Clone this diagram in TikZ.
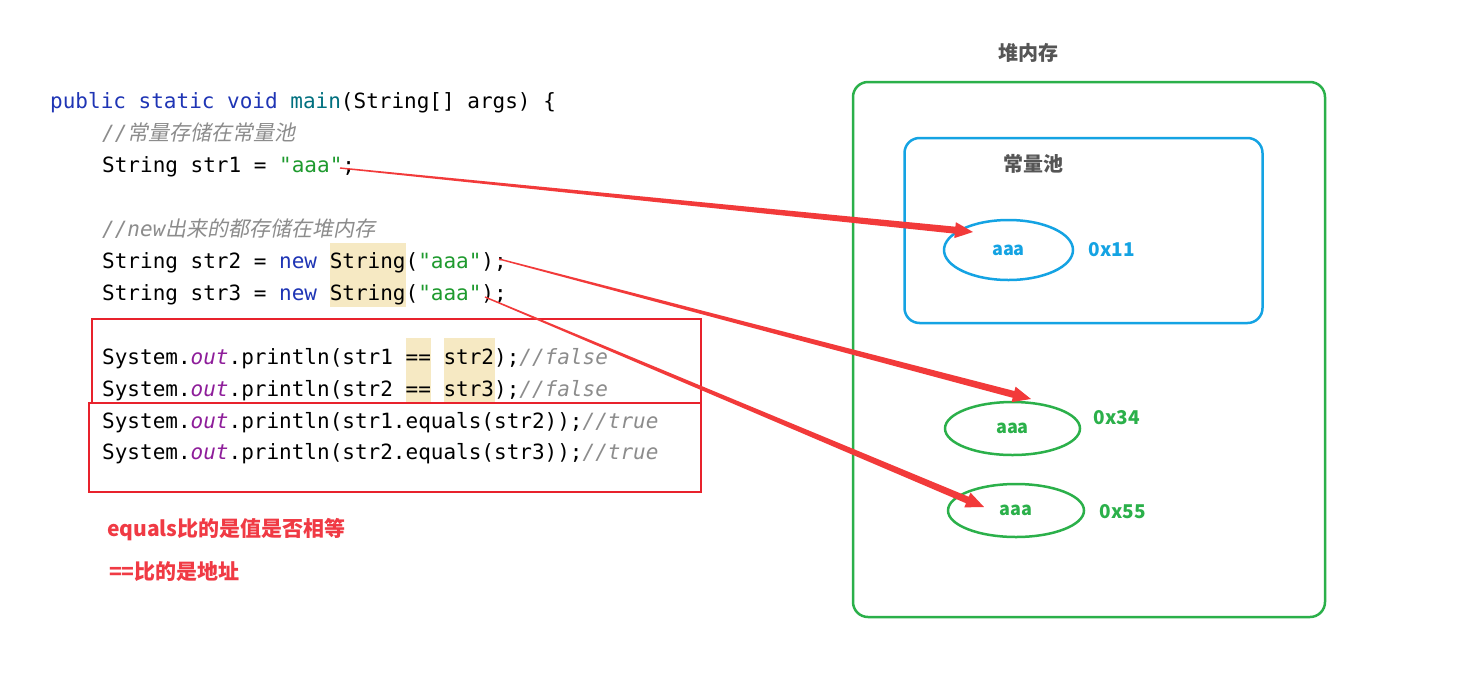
\documentclass[tikz,border=0pt]{standalone}
\usepackage{fontspec}
\setmonofont{DejaVu Sans Mono}
\newfontfamily\cjk{Noto Sans CJK SC}
\newfontfamily\cjkit[FakeSlant=0.2]{Noto Sans CJK SC}
\usepackage{tikz}
\usepackage{xcolor}
\usetikzlibrary{calc, shapes.geometric}
\definecolor{kwblue}{HTML}{1F35B5}
\definecolor{fnteal}{HTML}{00707F}
\definecolor{strgreen}{HTML}{1E9A2E}
\definecolor{fieldpurple}{HTML}{8E1D9A}
\definecolor{cmtgray}{HTML}{8C8C8C}
\definecolor{hilite}{HTML}{F6E9C3}
\definecolor{boxred}{HTML}{E8222C}
\definecolor{notered}{HTML}{F03A44}
\definecolor{arrowred}{HTML}{F23A3A}
\definecolor{heapgreen}{HTML}{2BB04A}
\definecolor{poolblue}{HTML}{14A3E3}
\definecolor{titlegray}{HTML}{555555}

% java colouring
\newcommand\kw[1]{\textcolor{kwblue}{#1}}
\newcommand\jstr[1]{\textcolor{strgreen}{#1}}
\newcommand\jfld[1]{{\color{fieldpurple}\itshape #1}}
\newcommand\jcmt[1]{{\color{cmtgray}\itshape #1}}
\newcommand\zh[1]{{\cjkit\upshape #1}}

% tapered red pointer from #1 to #2
\newcommand\taperto[2]{%
  \path let \p1=($(#2)-(#1)$) in
    \pgfextra{\pgfmathsetmacro\tlen{veclen(\x1,\y1)}\xdef\tlen{\tlen}%
              \pgfmathsetmacro\tang{atan2(\y1,\x1)}\xdef\tang{\tang}};
  \fill[arrowred, shift={(#1)}, rotate=\tang]
    (0pt,-0.7pt) -- (\tlen pt-18pt,-3.5pt) -- (\tlen pt-18pt,-8pt) -- (\tlen pt,0pt)
    -- (\tlen pt-18pt,8pt) -- (\tlen pt-18pt,3.5pt) -- (0pt,0.7pt) -- cycle;
}

\begin{document}
\begin{tikzpicture}[x=1pt, y=-1pt,
    code/.style={anchor=base west, inner sep=0pt, font=\ttfamily\fontsize{21}{32}\selectfont},
    note/.style={anchor=west, inner sep=0pt, text=notered, font=\cjk\bfseries\fontsize{21}{24}\selectfont},
    title/.style={inner sep=0pt, text=titlegray, font=\cjk\bfseries\fontsize{20}{24}\selectfont},
    addr/.style={inner sep=0pt, font=\cjk\bfseries\fontsize{19}{22}\selectfont},
    redframe/.style={draw=boxred, line width=2pt},
    roundbox/.style={rectangle, rounded corners=15pt, line width=2.5pt, inner sep=0pt},
    cell/.style={ellipse, line width=2.5pt, inner sep=0pt, font=\cjk\bfseries\fontsize{18}{20}\selectfont}]
  \useasboundingbox (0,0) rectangle (1467,694);
  \fill[white] (0,0) rectangle (1467,694);

  % highlights
  \fill[hilite] (330,243) rectangle (406,307);
  \fill[hilite] (405.6,338) rectangle (431,402);
  \fill[hilite] (443.5,338) rectangle (494.5,402);

  % code
  \node[code] (l1) at (50,108) {\kw{public static void} \textcolor{fnteal}{main}(String[] args) \{};
  \node[code] (l2) at (102,140) {\jcmt{//\zh{常量存储在常量池}}};
  \node[code] (l3) at (102,172) {String str1 = \jstr{"aaa"};};
  \node[code] (l4) at (102,236) {\jcmt{//new\zh{出来的都存储在堆内存}}};
  \node[code] (l5) at (102,268) {String str2 = \kw{new} String(\jstr{"aaa"});};
  \node[code] (l6) at (102,300) {String str3 = \kw{new} String(\jstr{"aaa"});};
  \node[code] (l7) at (102,364) {System.\jfld{out}.println(str1 == str2);\jcmt{//false}};
  \node[code] (l8) at (102,396) {System.\jfld{out}.println(str2 == str3);\jcmt{//false}};
  \node[code] (l9) at (102,428) {System.\jfld{out}.println(str1.equals(str2));\jcmt{//true}};
  \node[code] (l10) at (102,459) {System.\jfld{out}.println(str2.equals(str3));\jcmt{//true}};

  \draw[redframe] (92,319) rectangle (701,403);
  \draw[redframe] (89,403) rectangle (701,492);

  \node[note] (n1) at (107,530) {equals比的是值是否相等};
  \node[note] (n2) at (109,572) {==比的是地址};

  % heap
  \node[roundbox, draw=heapgreen, minimum width=472pt, minimum height=535pt] (heap) at (1089,349.5) {};
  \node[title] (heapt) at (1028,53) {堆内存};
  \node[roundbox, draw=poolblue, minimum width=358pt, minimum height=185pt] (pool) at (1083.5,230.5) {};
  \node[title] (poolt) at (1033,164) {常量池};

  \node[cell, draw=poolblue, text=poolblue, minimum width=129pt, minimum height=60pt] (s1) at (1008.5,250) {aaa};
  \node[addr, text=poolblue] (a1) at (1112,250) {0x11};
  \node[cell, draw=heapgreen, text=heapgreen, minimum width=135pt, minimum height=53pt] (s2) at (1012.5,428.5) {aaa};
  \node[addr, text=heapgreen] (a2) at (1117,418) {0x34};
  \node[cell, draw=heapgreen, text=heapgreen, minimum width=136pt, minimum height=53pt] (s3) at (1016,510.5) {aaa};
  \node[addr, text=heapgreen] (a3) at (1123,512) {0x55};

  % pointers
  \coordinate (p1) at (340,168);
  \coordinate (p2) at (499,259);
  \coordinate (p3) at (485,297);
  \coordinate (q1) at (973,232);
  \coordinate (q2) at (1031,399);
  \coordinate (q3) at (984,507);
  \taperto{p1}{q1}
  \taperto{p2}{q2}
  \taperto{p3}{q3}
\end{tikzpicture}
\end{document}
